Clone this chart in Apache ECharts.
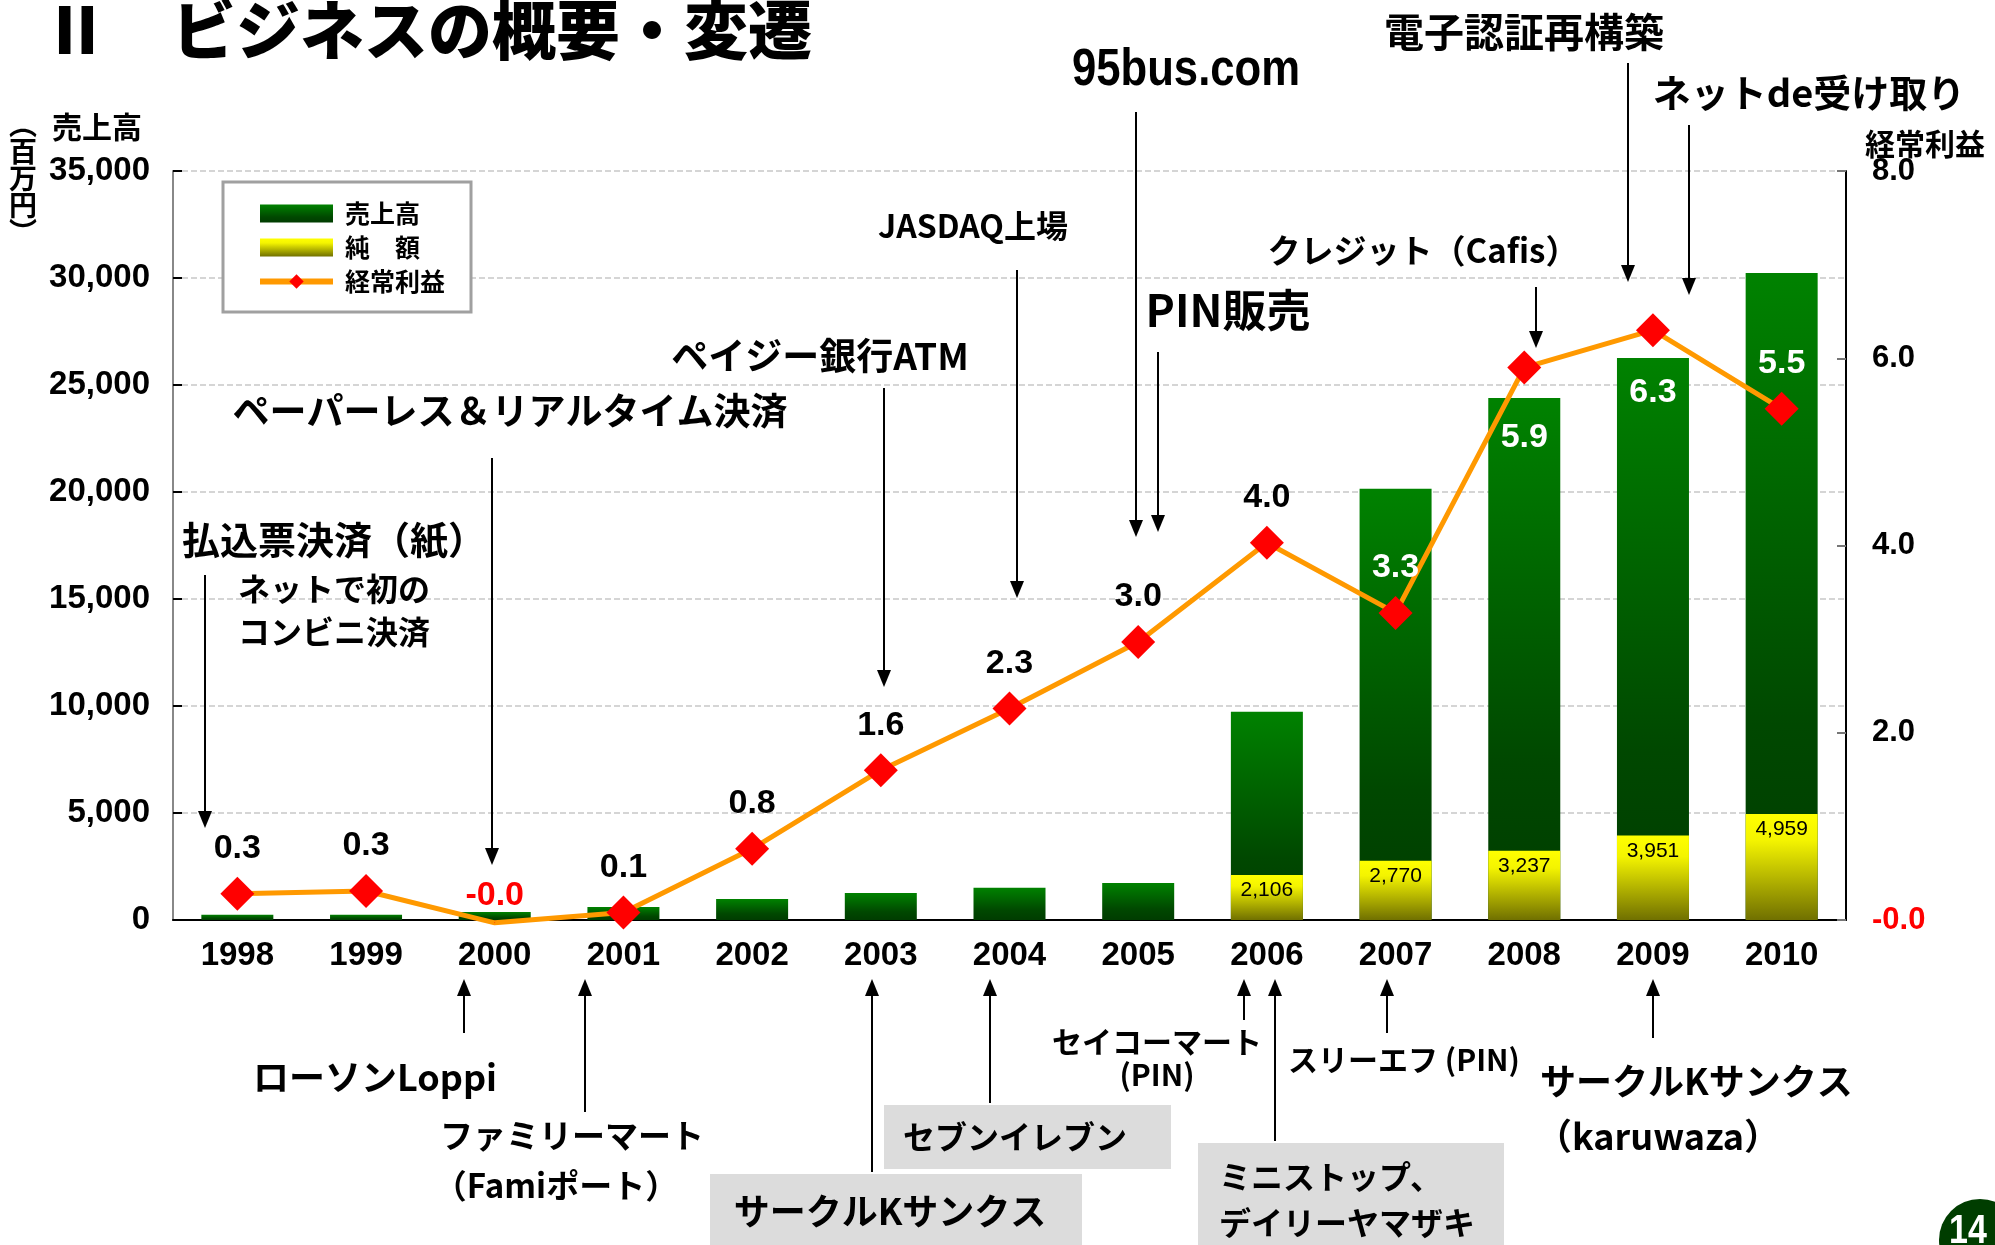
<!DOCTYPE html>
<html>
<head>
<meta charset="utf-8">
<script src="https://cdn.jsdelivr.net/npm/echarts@6/dist/echarts.min.js"></script>
<style>
html, body { margin: 0; padding: 0; background: #fff; }
#main { width: 1995px; height: 1245px; }
</style>
</head>
<body>
<div id="main"></div>
<script>
// データ
const years = ['1998', '1999', '2000', '2001', '2002', '2003', '2004', '2005', '2006', '2007', '2008', '2009', '2010'];
const sales = [250, 250, 370, 610, 980, 1260, 1510, 1730, 9730, 20150, 24390, 26260, 30230];
const netAmount = [null, null, null, null, null, null, null, null, 2106, 2770, 3237, 3951, 4959];
const ordinaryProfit = [0.28, 0.31, -0.03, 0.08, 0.76, 1.6, 2.26, 2.97, 4.03, 3.28, 5.9, 6.3, 5.46];
const salesTicks = [0, 5000, 10000, 15000, 20000, 25000, 30000, 35000];
const profitTicks = [0, 2, 4, 6, 8];

const jp = '"Noto Sans CJK JP", sans-serif';
const num = '"Liberation Sans", Arial, sans-serif';

// ラベルの位置 (バーの上に乗るものは白)
const labelPlace = { '2008': ['bottom', 36], '2009': ['bottom', 28] };
const whiteLabel = ['2007', '2008', '2009', '2010'];

const profitData = ordinaryProfit.map((v, i) => {
    const y = years[i];
    const place = labelPlace[y] || ['top', 11];
    return {
        value: v,
        symbolSize: v < 0 ? 1 : 34,
        label: {
            position: place[0],
            distance: v < 0 ? 10 : place[1],
            color: v < 0 ? '#ff0000' : (whiteLabel.includes(y) ? '#ffffff' : '#000000')
        }
    };
});

// 注記テキスト
const notes = [
    { text: 'Ⅱ　ビジネスの概要・変遷', x: 44, y: 30, size: 64, align: 'left', weight: 900 },
    { text: '売上高', x: 97, y: 127, size: 30 },
    { text: '経常利益', x: 1925, y: 144, size: 30 },
    { text: '払込票決済（紙）', x: 334, y: 540, size: 38 },
    { text: 'ネットで初の', x: 334, y: 589, size: 32 },
    { text: 'コンビニ決済', x: 334, y: 632, size: 32 },
    { text: 'ペーパーレス＆リアルタイム決済', x: 510, y: 411, size: 37 },
    { text: 'ペイジー銀行ATM', x: 820, y: 356, size: 37 },
    { text: 'JASDAQ上場', x: 973, y: 226, size: 32 },
    { text: '95bus.com', x: 1186, y: 71, size: 52, font: '"Liberation Sans", sans-serif', scaleX: 0.84 },
    { text: 'PIN販売', x: 1228, y: 310, size: 44 },
    { text: 'クレジット（Cafis）', x: 1423, y: 250, size: 33 },
    { text: '電子認証再構築', x: 1524, y: 32, size: 40 },
    { text: 'ネットde受け取り', x: 1809, y: 93, size: 38 },
    { text: 'ローソンLoppi', x: 375, y: 1077, size: 36 },
    { text: 'ファミリーマート', x: 572, y: 1135, size: 33 },
    { text: '（Famiポート）', x: 556, y: 1185, size: 33 },
    { text: 'サークルKサンクス', x: 890, y: 1211, size: 36 },
    { text: 'セブンイレブン', x: 1015, y: 1137, size: 32 },
    { text: 'セイコーマート', x: 1157, y: 1042, size: 30 },
    { text: '(PIN)', x: 1157, y: 1075, size: 30 },
    { text: 'スリーエフ (PIN)', x: 1404, y: 1060, size: 30 },
    { text: 'ミニストップ、', x: 1219, y: 1177, size: 32, align: 'left' },
    { text: 'デイリーヤマザキ', x: 1219, y: 1223, size: 32, align: 'left' },
    { text: 'サークルKサンクス', x: 1540, y: 1081, size: 36, align: 'left' },
    { text: '（karuwaza）', x: 1536, y: 1136, size: 36, align: 'left' }
];

// 矢印 [x, 始点y, 先端y]
const arrows = [
    [205, 575, 828], [492, 458, 865], [884, 388, 687], [1017, 270, 598],
    [1136, 112, 537], [1158, 352, 532], [1536, 287, 348], [1628, 63, 282], [1689, 125, 295],
    [464, 1033, 979], [585, 1112, 979], [872, 1172, 979], [990, 1103, 979],
    [1244, 1020, 979], [1275, 1141, 979], [1387, 1033, 979], [1653, 1038, 979]
];

// 灰色の枠 [x, y, w, h]
const boxes = [[710, 1174, 372, 71], [884, 1105, 287, 64], [1198, 1143, 306, 102]];

const graphics = [];
boxes.forEach(([x, y, w, h]) => {
    graphics.push({ type: 'rect', shape: { x, y, width: w, height: h }, style: { fill: '#dcdcdc' }, z: 100 });
});
arrows.forEach(([x, y0, tip]) => {
    const dir = tip > y0 ? 1 : -1;
    graphics.push({ type: 'line', shape: { x1: x, y1: y0, x2: x, y2: tip - dir * 12 }, style: { stroke: '#000', lineWidth: 2 }, z: 100 });
    graphics.push({ type: 'polygon', shape: { points: [[x - 7, tip - dir * 17], [x + 7, tip - dir * 17], [x, tip]] }, style: { fill: '#000' }, z: 100 });
});
notes.forEach(n => {
    graphics.push({
        type: 'text', x: n.x, y: n.y, z: 101, scaleX: n.scaleX || 1,
        style: {
            text: n.text, fill: '#000',
            font: `${n.weight || 'bold'} ${n.size}px ${n.font || jp}`,
            align: n.align || 'center', verticalAlign: 'middle'
        }
    });
});
// （百万円）縦書き
graphics.push({
    type: 'text', x: 23, y: 178, z: 101,
    style: { text: '︵\n百\n万\n円\n︶', font: `bold 28px ${jp}`, lineHeight: 27, fill: '#000', align: 'center', verticalAlign: 'middle' }
});
// ページ番号
graphics.push({ type: 'circle', shape: { cx: 1980, cy: 1240, r: 41 }, style: { fill: '#003d00' }, z: 100 });
graphics.push({ type: 'text', x: 1968, y: 1212, z: 101, scaleX: 0.85, style: { text: '14', fill: '#fff', font: `bold 40px ${num}`, align: 'center', verticalAlign: 'top' } });

const myChart = echarts.init(document.getElementById('main'));

const option = {
    animation: false,
    backgroundColor: '#fff',
    grid: { left: 173, right: 149, top: 171, bottom: 325 },
    legend: {
        orient: 'vertical',
        left: 223,
        top: 182,
        itemWidth: 73,
        itemHeight: 18,
        itemGap: 9,
        padding: [19, 26, 18, 34],
        borderColor: '#a0a0a0',
        borderWidth: 3,
        backgroundColor: '#fff',
        lineStyle: { width: 6 },
        textStyle: { fontFamily: jp, fontWeight: 'bold', fontSize: 25, color: '#000', padding: [0, 0, 0, 7] },
        data: [{ name: '売上高', icon: 'rect' }, { name: '純　額', icon: 'rect' }, { name: '経常利益' }]
    },
    xAxis: {
        type: 'category',
        data: years,
        axisLine: { lineStyle: { color: '#000', width: 2 } },
        axisTick: { inside: true, length: 9, lineStyle: { color: '#777', width: 2 } },
        axisLabel: { margin: 19, fontFamily: num, fontWeight: 'bold', fontSize: 33, color: '#000' }
    },
    yAxis: [
        {
            type: 'value',
            min: salesTicks[0],
            max: salesTicks[salesTicks.length - 1],
            interval: salesTicks[1] - salesTicks[0],
            axisLine: { show: true, lineStyle: { color: '#888', width: 2 } },
            axisTick: { show: true, inside: true, length: 9, lineStyle: { color: '#000', width: 2 } },
            splitLine: { lineStyle: { color: '#c8c8c8', type: 'dashed', width: 1.5 } },
            axisLabel: {
                margin: 23, fontFamily: num, fontWeight: 'bold', fontSize: 33, color: '#000',
                formatter: v => v.toLocaleString('en-US')
            }
        },
        {
            type: 'value',
            min: profitTicks[0],
            max: profitTicks[profitTicks.length - 1],
            interval: profitTicks[1] - profitTicks[0],
            axisLine: { show: true, lineStyle: { color: '#000', width: 2 } },
            axisTick: { show: true, inside: true, length: 9, lineStyle: { color: '#777', width: 2 } },
            splitLine: { show: false },
            axisLabel: {
                margin: 26, fontFamily: num, fontWeight: 'bold', fontSize: 31, color: '#000',
                formatter: v => v === 0 ? '{neg|-0.0}' : v.toFixed(1),
                rich: { neg: { color: '#ff0000', fontFamily: num, fontWeight: 'bold', fontSize: 31 } }
            }
        }
    ],
    series: [
        {
            name: '売上高',
            type: 'bar',
            data: sales,
            barWidth: 72,
            barGap: '-100%',
            itemStyle: {
                color: new echarts.graphic.LinearGradient(0, 0, 0, 1, [
                    { offset: 0, color: '#008200' },
                    { offset: 0.7, color: '#004800' },
                    { offset: 1, color: '#003c00' }
                ])
            },
            emphasis: { disabled: true }
        },
        {
            name: '純　額',
            type: 'bar',
            data: netAmount,
            barWidth: 72,
            barGap: '-100%',
            itemStyle: {
                color: new echarts.graphic.LinearGradient(0, 0, 0, 1, [
                    { offset: 0, color: '#ffff00' },
                    { offset: 0.25, color: '#f4f400' },
                    { offset: 1, color: '#707000' }
                ])
            },
            label: {
                show: true,
                position: 'insideTop',
                distance: 5,
                fontFamily: num,
                fontSize: 21,
                color: '#000',
                formatter: p => p.value.toLocaleString('en-US')
            },
            emphasis: { disabled: true }
        },
        {
            name: '経常利益',
            type: 'line',
            yAxisIndex: 1,
            data: profitData,
            symbol: 'diamond',
            clip: false,
            lineStyle: { color: '#ff9900', width: 5 },
            itemStyle: { color: '#ff0000' },
            label: {
                show: true,
                fontFamily: num,
                fontWeight: 'bold',
                fontSize: 34,
                formatter: p => p.value.toFixed(1)
            },
            z: 5,
            emphasis: { disabled: true }
        }
    ],
    graphic: { elements: graphics }
};

myChart.setOption(option);
</script>
</body>
</html>
